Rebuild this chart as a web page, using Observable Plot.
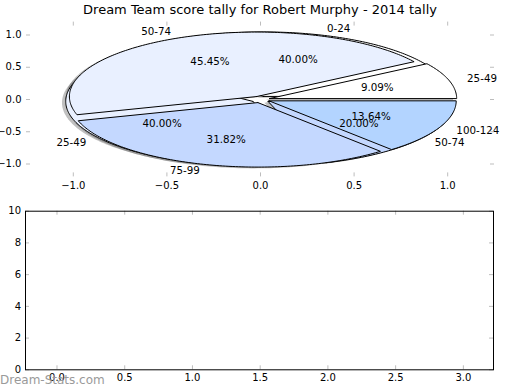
<!DOCTYPE html>
<html><head><meta charset="utf-8">
<script src="https://cdn.jsdelivr.net/npm/d3@7"></script>
<script src="https://cdn.jsdelivr.net/npm/@observablehq/plot@0.6"></script>
<style>
body{margin:0;background:#fff;font-family:"DejaVu Sans",sans-serif;}
#wrap{position:relative;width:520px;height:390px;overflow:hidden;background:#fff;}
#title{position:absolute;top:2px;left:0;width:520px;text-align:center;font-size:13px;color:#000;}
#p1{position:absolute;top:0;left:0;}
#p2{position:absolute;top:190px;left:0;}
#wm{position:absolute;left:0;top:373px;font-size:12px;color:#9a9a9a;white-space:nowrap;}
</style></head><body>
<div id="wrap"><div id="p1"></div><div id="p2"></div><div id="title"></div><div id="wm"></div></div>
<script>
const chartTitle = "Dream Team score tally for Robert Murphy - 2014 tally";
const watermark = "Dream-Stats.com";
const pie1Labels = ["25-49", "50-74", "75-99", "100-124"];
const pie1Values = [2, 10, 7, 3];
const pie2Labels = ["0-24", "25-49", "50-74"];
const pie2Values = [2, 2, 1];
const pieXTicks = [-1, -0.5, 0, 0.5, 1];
const pieYTicks = [-1, -0.5, 0, 0.5, 1];
const lowXTicks = [0, 0.5, 1, 1.5, 2, 2.5, 3];
const lowYTicks = [0, 2, 4, 6, 8, 10];

const pie1Colors = ["#ffffff", "#e9f0ff", "#c4d8ff", "#b3d4ff"];
const pie2Colors = ["#ffffff", "#e9f0ff", "#c4d8ff"];
const explode = 0.05;
const shadowOffset = 0.02;
const tickColor = "#bdbdbd";

document.getElementById("title").textContent = chartTitle;
document.getElementById("wm").textContent = watermark;

function layoutPie(labels, values, colors) {
  const total = d3.sum(values);
  let a = 0;
  return values.map((v, i) => {
    const a0 = a, a1 = a + 2 * Math.PI * v / total; a = a1;
    const mid = (a0 + a1) / 2;
    const cx = explode * Math.cos(mid), cy = explode * Math.sin(mid);
    const n = Math.max(2, Math.ceil((a1 - a0) / (Math.PI / 180)));
    const pts = [{x: cx, y: cy}];
    for (let k = 0; k <= n; k++) {
      const t = a0 + (a1 - a0) * k / n;
      pts.push({x: cx + Math.cos(t), y: cy + Math.sin(t)});
    }
    pts.push({x: cx, y: cy});
    return {
      label: labels[i], pct: (100 * v / total).toFixed(2) + "%", color: colors[i], pts,
      lx: cx + 1.1 * Math.cos(mid), ly: cy + 1.1 * Math.sin(mid),
      px: cx + 0.6 * Math.cos(mid), py: cy + 0.6 * Math.sin(mid)
    };
  });
}

const w1 = layoutPie(pie1Labels, pie1Values, pie1Colors);
const w2 = layoutPie(pie2Labels, pie2Values, pie2Colors);
const allW = [...w2, ...w1];

const H1 = 200, mt1 = 21.6, mb1 = 23.6, ml1 = 26, mr1 = 26;
const fh1 = H1 - mt1 - mb1, fw1 = 520 - ml1 - mr1;

const marks1 = [];
for (const w of allW) marks1.push(Plot.line(w.pts, {x: d => d.x - shadowOffset, y: d => d.y - shadowOffset, fill: "#404040", fillOpacity: 0.33, stroke: "none"}));
for (const w of allW) marks1.push(Plot.line(w.pts, {x: "x", y: "y", fill: w.color, stroke: "black", strokeWidth: 1}));
marks1.push(
  Plot.text(allW.filter(d => d.lx >= 0), {x: "lx", y: "ly", text: "label", textAnchor: "start", fontSize: 10.3, fill: "black"}),
  Plot.text(allW.filter(d => d.lx < 0), {x: "lx", y: "ly", text: "label", textAnchor: "end", fontSize: 10.3, fill: "black"}),
  Plot.text(allW, {x: "px", y: "py", text: "pct", textAnchor: "middle", fontSize: 10.3, fill: "black"}),
  Plot.tickX(pieXTicks, {x: d => d, stroke: tickColor, insetTop: fh1 - 4}),
  Plot.tickX(pieXTicks, {x: d => d, stroke: tickColor, insetBottom: fh1 - 4}),
  Plot.tickY(pieYTicks, {y: d => d, stroke: tickColor, insetRight: fw1 - 4}),
  Plot.tickY(pieYTicks, {y: d => d, stroke: tickColor, insetLeft: fw1 - 4}),
  Plot.axisX(pieXTicks, {tickSize: 0, tickPadding: 4.5, tickFormat: d3.format(".1f"), fontSize: 10}),
  Plot.axisY(pieYTicks, {tickSize: 0, tickPadding: 5, tickFormat: d3.format(".1f"), fontSize: 10})
);

const p1 = Plot.plot({
  width: 520, height: H1,
  marginLeft: ml1, marginRight: mr1, marginTop: mt1, marginBottom: mb1,
  x: {domain: [-1.25, 1.25]}, y: {domain: [-1.2, 1.2]},
  style: {fontFamily: "DejaVu Sans", fontSize: "10px", background: "white", color: "black", overflow: "visible"},
  marks: marks1
});
document.getElementById("p1").appendChild(p1);

const H2 = 200, mt2 = 20.7, mb2 = 20.7, ml2 = 25, mr2 = 27;
const fh2 = H2 - mt2 - mb2, fw2 = 520 - ml2 - mr2;
const p2 = Plot.plot({
  width: 520, height: H2,
  marginLeft: ml2, marginRight: mr2, marginTop: mt2, marginBottom: mb2,
  x: {domain: [-0.2325, 3.2225]}, y: {domain: [0, 10]},
  style: {fontFamily: "DejaVu Sans", fontSize: "10px", background: "white", color: "black", overflow: "visible"},
  marks: [
    Plot.tickX(lowXTicks, {x: d => d, stroke: tickColor, insetTop: fh2 - 4}),
    Plot.tickX(lowXTicks, {x: d => d, stroke: tickColor, insetBottom: fh2 - 4}),
    Plot.tickY(lowYTicks, {y: d => d, stroke: tickColor, insetRight: fw2 - 4}),
    Plot.tickY(lowYTicks, {y: d => d, stroke: tickColor, insetLeft: fw2 - 4}),
    Plot.frame({stroke: "black", strokeWidth: 1}),
    Plot.axisX(lowXTicks, {tickSize: 0, tickPadding: 4.5, tickFormat: d3.format(".1f"), fontSize: 10}),
    Plot.axisY(lowYTicks, {tickSize: 0, tickPadding: 4.5, tickFormat: d3.format("d"), fontSize: 10})
  ]
});
document.getElementById("p2").appendChild(p2);
</script>
</body></html>
